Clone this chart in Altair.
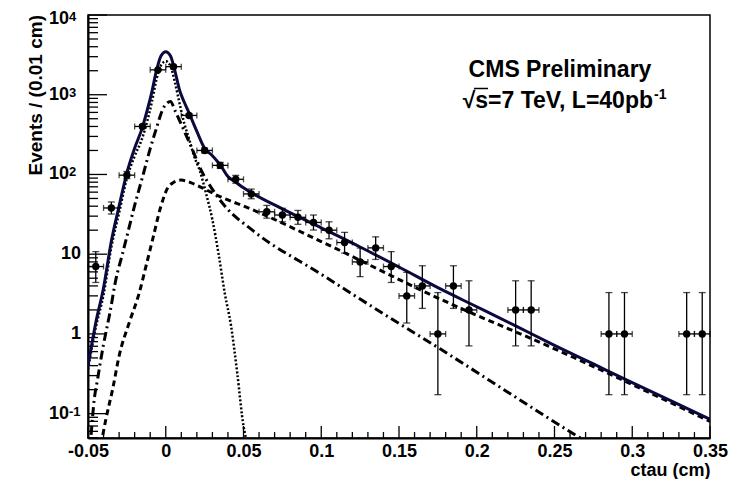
import altair as alt
import pandas as pd

FONT = "Liberation Sans"
W, H = 622, 423

# ---------------- data ----------------
bin_x = [-0.045, -0.035, -0.025, -0.015, -0.005, 0.005, 0.015, 0.025, 0.035, 0.045,
         0.055, 0.065, 0.075, 0.085, 0.095, 0.105, 0.115, 0.125, 0.135, 0.145,
         0.155, 0.165, 0.175, 0.185, 0.195, 0.225, 0.235, 0.285, 0.295, 0.335, 0.345]
counts = [7, 38, 98, 400, 2050, 2250, 550, 200, 130, 87,
          57, 34, 31, 29, 25, 20, 14, 8, 12, 7,
          3, 4, 1, 4, 2, 2, 2, 1, 1, 1, 1]
err_lo = [4.42, 31.9, 88.6, 380, 2005, 2203, 527, 186, 119, 77.7,
          49.6, 28.3, 25.5, 23.7, 20.1, 15.6, 10.3, 5.23, 8.6, 4.42,
          1.37, 2.09, 0.173, 2.09, 0.708, 0.708, 0.708, 0.173, 0.173, 0.173, 0.173]
err_hi = [10.77, 45.2, 108.9, 421, 2096, 2298, 574, 215, 142, 97.4,
          65.6, 40.9, 37.6, 35.4, 31.0, 25.5, 18.8, 11.95, 16.5, 10.77,
          5.92, 7.16, 3.30, 7.16, 4.64, 4.64, 4.64, 3.30, 3.30, 3.30, 3.30]
bin_half = 0.005

total_x = [-0.050, -0.045, -0.040, -0.035, -0.030, -0.025, -0.020, -0.015, -0.012, -0.009,
           -0.006, -0.003, 0.000, 0.003, 0.006, 0.009, 0.012, 0.015, 0.020, 0.025,
           0.030, 0.035, 0.040, 0.045, 0.050, 0.055, 0.075, 0.100, 0.125, 0.150,
           0.175, 0.200, 0.225, 0.250, 0.275, 0.300, 0.325, 0.350]
total_v = [0.40, 1.38, 3.8, 14.5, 40, 105, 214, 390, 630, 1070,
           2000, 3090, 3470, 3090, 1950, 1120, 800, 590, 347, 213,
           172, 132, 94, 80, 68, 59, 37, 21.4, 12.3, 6.9,
           3.8, 2.19, 1.26, 0.72, 0.42, 0.245, 0.145, 0.085]

prompt_x = [-0.050, -0.045, -0.040, -0.035, -0.030, -0.025, -0.020, -0.015, -0.012, -0.009,
            -0.006, -0.003, 0.000, 0.003, 0.006, 0.009, 0.012, 0.015, 0.018, 0.022,
            0.026, 0.030, 0.034, 0.038, 0.042, 0.046, 0.050, 0.0516]
prompt_v = [0.36, 1.2, 3.1, 12.2, 33, 89, 170, 290, 460, 800,
            1550, 2350, 2630, 2300, 1400, 760, 430, 280, 175, 110,
            57, 27, 10, 3.2, 1.26, 0.32, 0.07, 0.049]

nonprompt_x = [-0.048, -0.046, -0.044, -0.040, -0.036, -0.032, -0.028, -0.024, -0.020, -0.015,
               -0.010, -0.006, -0.002, 0.001, 0.003, 0.006, 0.009, 0.0125, 0.0167, 0.0231,
               0.030, 0.0381, 0.0563, 0.100, 0.142, 0.1764, 0.220, 0.2621, 0.267]
nonprompt_v = [0.054, 0.15, 0.26, 0.74, 1.8, 4.9, 9.8, 20, 41, 92,
               211, 380, 650, 790, 820, 630, 470, 330, 215, 110,
               65, 40, 19.6, 5.6, 1.69, 0.65, 0.186, 0.056, 0.049]

bkg_x = [-0.0405, -0.0384, -0.0341, -0.0299, -0.0234, -0.017, -0.0127, -0.0084, -0.0031, 0.0013,
         0.004, 0.0098, 0.014, 0.0188, 0.0338, 0.0553, 0.100, 0.1764, 0.250, 0.350]
bkg_v = [0.054, 0.087, 0.205, 0.54, 1.4, 3.3, 7.1, 15.4, 40, 68,
         77, 85, 82, 75, 54, 36.5, 14.4, 2.74, 0.65, 0.080]

x_major = [-0.05, 0, 0.05, 0.1, 0.15, 0.2, 0.25, 0.3, 0.35]
x_minor = [-0.04, -0.03, -0.02, -0.01, 0.01, 0.02, 0.03, 0.04, 0.06, 0.07, 0.08, 0.09,
           0.11, 0.12, 0.13, 0.14, 0.16, 0.17, 0.18, 0.19, 0.21, 0.22, 0.23, 0.24,
           0.26, 0.27, 0.28, 0.29, 0.31, 0.32, 0.33, 0.34]
y_major = [0.1, 1, 10, 100, 1000, 10000]
y_minor = [0.05, 0.06, 0.07, 0.08, 0.09,
           0.2, 0.3, 0.4, 0.5, 0.6, 0.7, 0.8, 0.9,
           2, 3, 4, 5, 6, 7, 8, 9,
           20, 30, 40, 50, 60, 70, 80, 90,
           200, 300, 400, 500, 600, 700, 800, 900,
           2000, 3000, 4000, 5000, 6000, 7000, 8000, 9000]
y_plain_vals = [1, 10]
y_plain_text = ["1", "10"]
y_exp_vals = [0.1, 100, 1000]
y_exp_text = ["-1", "2", "3"]
y_top_val = [10000]
y_top_text = ["4"]

# ---------------- scales / axes ----------------
xs = alt.Scale(domain=[-0.05, 0.35], nice=False, zero=False)
ys = alt.Scale(type="log", domain=[0.0495, 10000], nice=False)

xaxis = alt.Axis(values=x_major, labelExpr="'' + datum.value", ticks=False, grid=False,
                 domainWidth=2, domainColor="black", labelFont=FONT, labelFontSize=18,
                 labelFontWeight="bold", labelColor="black", labelPadding=4,
                 labelFlush=False, labelOverlap=False,
                 title="ctau (cm)", titleX=W, titleY=37, titleAlign="right",
                 titleBaseline="alphabetic", titleFont=FONT, titleFontSize=18,
                 titleFontWeight="bold", titleColor="black")
yaxis = alt.Axis(labels=False, ticks=False, grid=False, domainWidth=2,
                 domainColor="black", title=None)


def xe(f):
    return alt.X(f"{f}:Q", scale=xs, axis=xaxis)


def ye(f):
    return alt.Y(f"{f}:Q", scale=ys, axis=yaxis)


pts = pd.DataFrame({"x": bin_x, "v": counts, "lo": err_lo, "hi": err_hi})
pts["xlo"] = pts["x"] - bin_half
pts["xhi"] = pts["x"] + bin_half

ebar_v = alt.Chart(pts).mark_rule(color="black", strokeWidth=1.3).encode(
    x=xe("x"), y=ye("lo"), y2="hi")
ebar_h = alt.Chart(pts).mark_rule(color="black", strokeWidth=1.3).encode(
    x=xe("xlo"), x2="xhi", y=ye("v"))
cap_top = alt.Chart(pts).mark_tick(orient="horizontal", size=7, thickness=1.3, color="black").encode(
    x=xe("x"), y=ye("hi"))
cap_bot = alt.Chart(pts).mark_tick(orient="horizontal", size=7, thickness=1.3, color="black").encode(
    x=xe("x"), y=ye("lo"))
cap_l = alt.Chart(pts).mark_tick(orient="vertical", size=6, thickness=1.3, color="black").encode(
    x=xe("xlo"), y=ye("v"))
cap_r = alt.Chart(pts).mark_tick(orient="vertical", size=6, thickness=1.3, color="black").encode(
    x=xe("xhi"), y=ye("v"))
dots = alt.Chart(pts).mark_circle(size=55, color="black", opacity=1).encode(x=xe("x"), y=ye("v"))


def curve(xv, vv, color, width, dash=None):
    df = pd.DataFrame({"x": xv, "v": vv})
    kw = dict(clip=True, color=color, strokeWidth=width, interpolate="monotone")
    if dash:
        kw["strokeDash"] = dash
    return alt.Chart(df).mark_line(**kw).encode(x=xe("x"), y=ye("v"), order="x:Q")


c_prompt = curve(prompt_x, prompt_v, "black", 2.5, [2, 2])
c_nonprompt = curve(nonprompt_x, nonprompt_v, "black", 3, [9, 4, 2, 4])
c_bkg = curve(bkg_x, bkg_v, "black", 3, [6, 4])
c_total = curve(total_x, total_v, "#0a0a40", 3)

# axis ticks (drawn inside the frame)
xmaj = alt.Chart(pd.DataFrame({"x": x_major})).mark_rule(color="black", strokeWidth=1.3).encode(
    x=xe("x"), y=alt.value(H), y2=alt.value(H - 12))
xmin = alt.Chart(pd.DataFrame({"x": x_minor})).mark_rule(color="black", strokeWidth=1.3).encode(
    x=xe("x"), y=alt.value(H), y2=alt.value(H - 6))
ymaj = alt.Chart(pd.DataFrame({"v": y_major})).mark_rule(color="black", strokeWidth=1.3).encode(
    y=ye("v"), x=alt.value(0), x2=alt.value(19))
ymin = alt.Chart(pd.DataFrame({"v": y_minor})).mark_rule(color="black", strokeWidth=1.3).encode(
    y=ye("v"), x=alt.value(0), x2=alt.value(10))

# y tick labels with superscripts
def base_text(vals, texts, xpos, dy=0):
    return alt.Chart(pd.DataFrame({"v": vals, "t": texts})).mark_text(
        align="right", baseline="middle", dy=dy, font=FONT, fontSize=18, fontWeight="bold",
        color="black").encode(y=ye("v"), x=alt.value(xpos), text="t:N")


def sup_text(vals, texts, dy):
    return alt.Chart(pd.DataFrame({"v": vals, "t": texts})).mark_text(
        align="left", baseline="alphabetic", dy=dy, font=FONT, fontSize=13, fontWeight="bold",
        color="black").encode(y=ye("v"), x=alt.value(-19), text="t:N")


lab_plain = base_text(y_plain_vals, y_plain_text, -7)
lab_base = base_text(y_exp_vals, ["10"] * len(y_exp_vals), -19)
lab_sup = sup_text(y_exp_vals, y_exp_text, 2)
lab_top = base_text(y_top_val, ["10"], -19, dy=4)
lab_top_sup = sup_text(y_top_val, y_top_text, 6)

one = pd.DataFrame({"a": [0]})
ytitle = alt.Chart(one).mark_text(
    angle=270, align="right", baseline="middle", font=FONT, fontSize=19, fontWeight="bold", color="black"
).encode(x=alt.value(-52), y=alt.value(0), text=alt.value("Events / (0.01 cm)"))

cms1 = alt.Chart(one).mark_text(
    align="center", baseline="alphabetic", font=FONT, fontSize=23, fontWeight="bold", color="black"
).encode(x=alt.value(472), y=alt.value(62), text=alt.value("CMS Preliminary"))
cms2 = alt.Chart(one).mark_text(
    align="right", baseline="alphabetic", font=FONT, fontSize=23, fontWeight="bold", color="black"
).encode(x=alt.value(565), y=alt.value(93), text=alt.value("\u221as=7 TeV, L=40pb"))
cms2sup = alt.Chart(one).mark_text(
    align="left", baseline="alphabetic", font=FONT, fontSize=14, fontWeight="bold", color="black"
).encode(x=alt.value(566), y=alt.value(84), text=alt.value("-1"))
overline = alt.Chart(one).mark_rule(color="black", strokeWidth=1.5).encode(
    x=alt.value(386), x2=alt.value(400), y=alt.value(73.5))

chart = alt.layer(
    xmin, xmaj, ymin, ymaj,
    c_prompt, c_nonprompt, c_bkg, c_total,
    ebar_v, ebar_h, cap_top, cap_bot, cap_l, cap_r, dots,
    lab_plain, lab_base, lab_sup, lab_top, lab_top_sup,
    ytitle, cms1, cms2, cms2sup, overline,
).properties(
    width=W, height=H,
    autosize=alt.AutoSizeParams(type="none"),
    padding={"left": 80, "top": 7, "right": 22, "bottom": 41},
    background="white",
).configure_view(stroke="black", strokeWidth=1.5)

chart.save("out.html", embed_options={"renderer": "svg", "actions": False})
